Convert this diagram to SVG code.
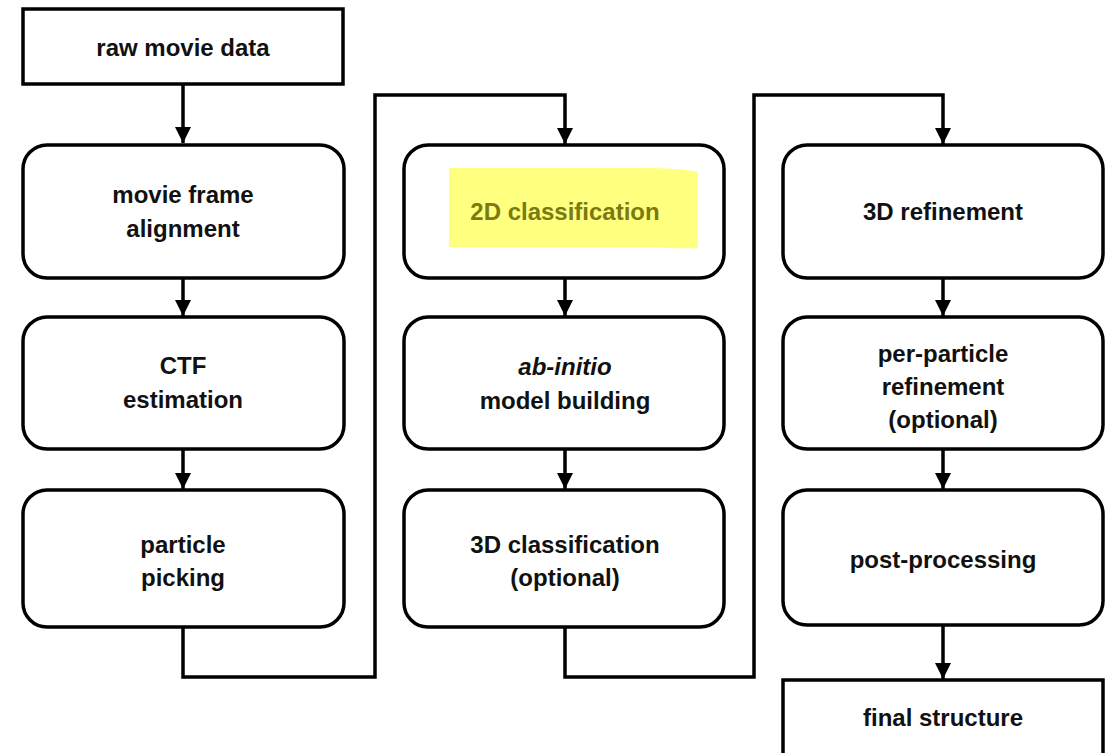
<svg xmlns="http://www.w3.org/2000/svg" width="1110" height="753" viewBox="0 0 1110 753">
<style>
.box{fill:#fff;stroke:#000;stroke-width:3.5}
.t{font-family:"Liberation Sans",Arial,sans-serif;font-weight:bold;font-size:24px;fill:#111;text-anchor:middle}
.con{fill:none;stroke:#000;stroke-width:3.5}
</style>
<defs>
<marker id="ah" viewBox="0 0 10 10" refX="10" refY="5" markerWidth="4.6" markerHeight="4.8" markerUnits="strokeWidth" orient="auto">
<path d="M0,0 L10,5 L0,10 z" fill="#000"/>
</marker>
</defs>
<rect width="1110" height="753" fill="#fff"/>
<g id="connectors">
<path class="con" d="M183,84 V143" marker-end="url(#ah)"/>
<path class="con" d="M183,278 V316" marker-end="url(#ah)"/>
<path class="con" d="M183,449 V489" marker-end="url(#ah)"/>
<path class="con" d="M183,627 V677 H375 V95 H565 V144" marker-end="url(#ah)"/>
<path class="con" d="M565,278 V316" marker-end="url(#ah)"/>
<path class="con" d="M565,449 V489" marker-end="url(#ah)"/>
<path class="con" d="M565,627 V677 H754 V95 H943 V144" marker-end="url(#ah)"/>
<path class="con" d="M943,278 V316" marker-end="url(#ah)"/>
<path class="con" d="M943,449 V489" marker-end="url(#ah)"/>
<path class="con" d="M943,625 V679" marker-end="url(#ah)"/>
</g>
<g id="raw">
<rect class="box" x="23" y="9" width="320" height="75"/>
<text class="t" x="183" y="56">raw movie data</text>
</g>
<g id="align">
<rect class="box" x="23" y="145" width="321" height="133" rx="24"/>
<text class="t" x="183" y="203">movie frame</text>
<text class="t" x="183" y="237">alignment</text>
</g>
<g id="ctf">
<rect class="box" x="23" y="317" width="321" height="132" rx="24"/>
<text class="t" x="183" y="374">CTF</text>
<text class="t" x="183" y="408">estimation</text>
</g>
<g id="picking">
<rect class="box" x="23" y="490" width="321" height="137" rx="24"/>
<text class="t" x="183" y="553">particle</text>
<text class="t" x="183" y="586">picking</text>
</g>
<g id="class2d">
<rect class="box" x="404" y="145" width="320" height="133" rx="24"/>
<path d="M449,168 H640 Q680,168 698,172 V248 Q680,249 650,247 H449 Z" fill="#FFFF80"/>
<text class="t" x="565" y="220" style="fill:#7A7A10">2D classification</text>
</g>
<g id="abinitio">
<rect class="box" x="404" y="317" width="320" height="132" rx="24"/>
<text class="t" x="565" y="375" style="font-style:italic">ab-initio</text>
<text class="t" x="565" y="409">model building</text>
</g>
<g id="class3d">
<rect class="box" x="404" y="490" width="320" height="137" rx="24"/>
<text class="t" x="565" y="553">3D classification</text>
<text class="t" x="565" y="586">(optional)</text>
</g>
<g id="refine3d">
<rect class="box" x="783" y="145" width="320" height="133" rx="24"/>
<text class="t" x="943" y="220">3D refinement</text>
</g>
<g id="perparticle">
<rect class="box" x="783" y="317" width="320" height="132" rx="24"/>
<text class="t" x="943" y="362">per-particle</text>
<text class="t" x="943" y="395">refinement</text>
<text class="t" x="943" y="428">(optional)</text>
</g>
<g id="post">
<rect class="box" x="783" y="490" width="320" height="135" rx="24"/>
<text class="t" x="943" y="568">post-processing</text>
</g>
<g id="final">
<rect class="box" x="783" y="680" width="320" height="80"/>
<text class="t" x="943" y="726">final structure</text>
</g>
</svg>
